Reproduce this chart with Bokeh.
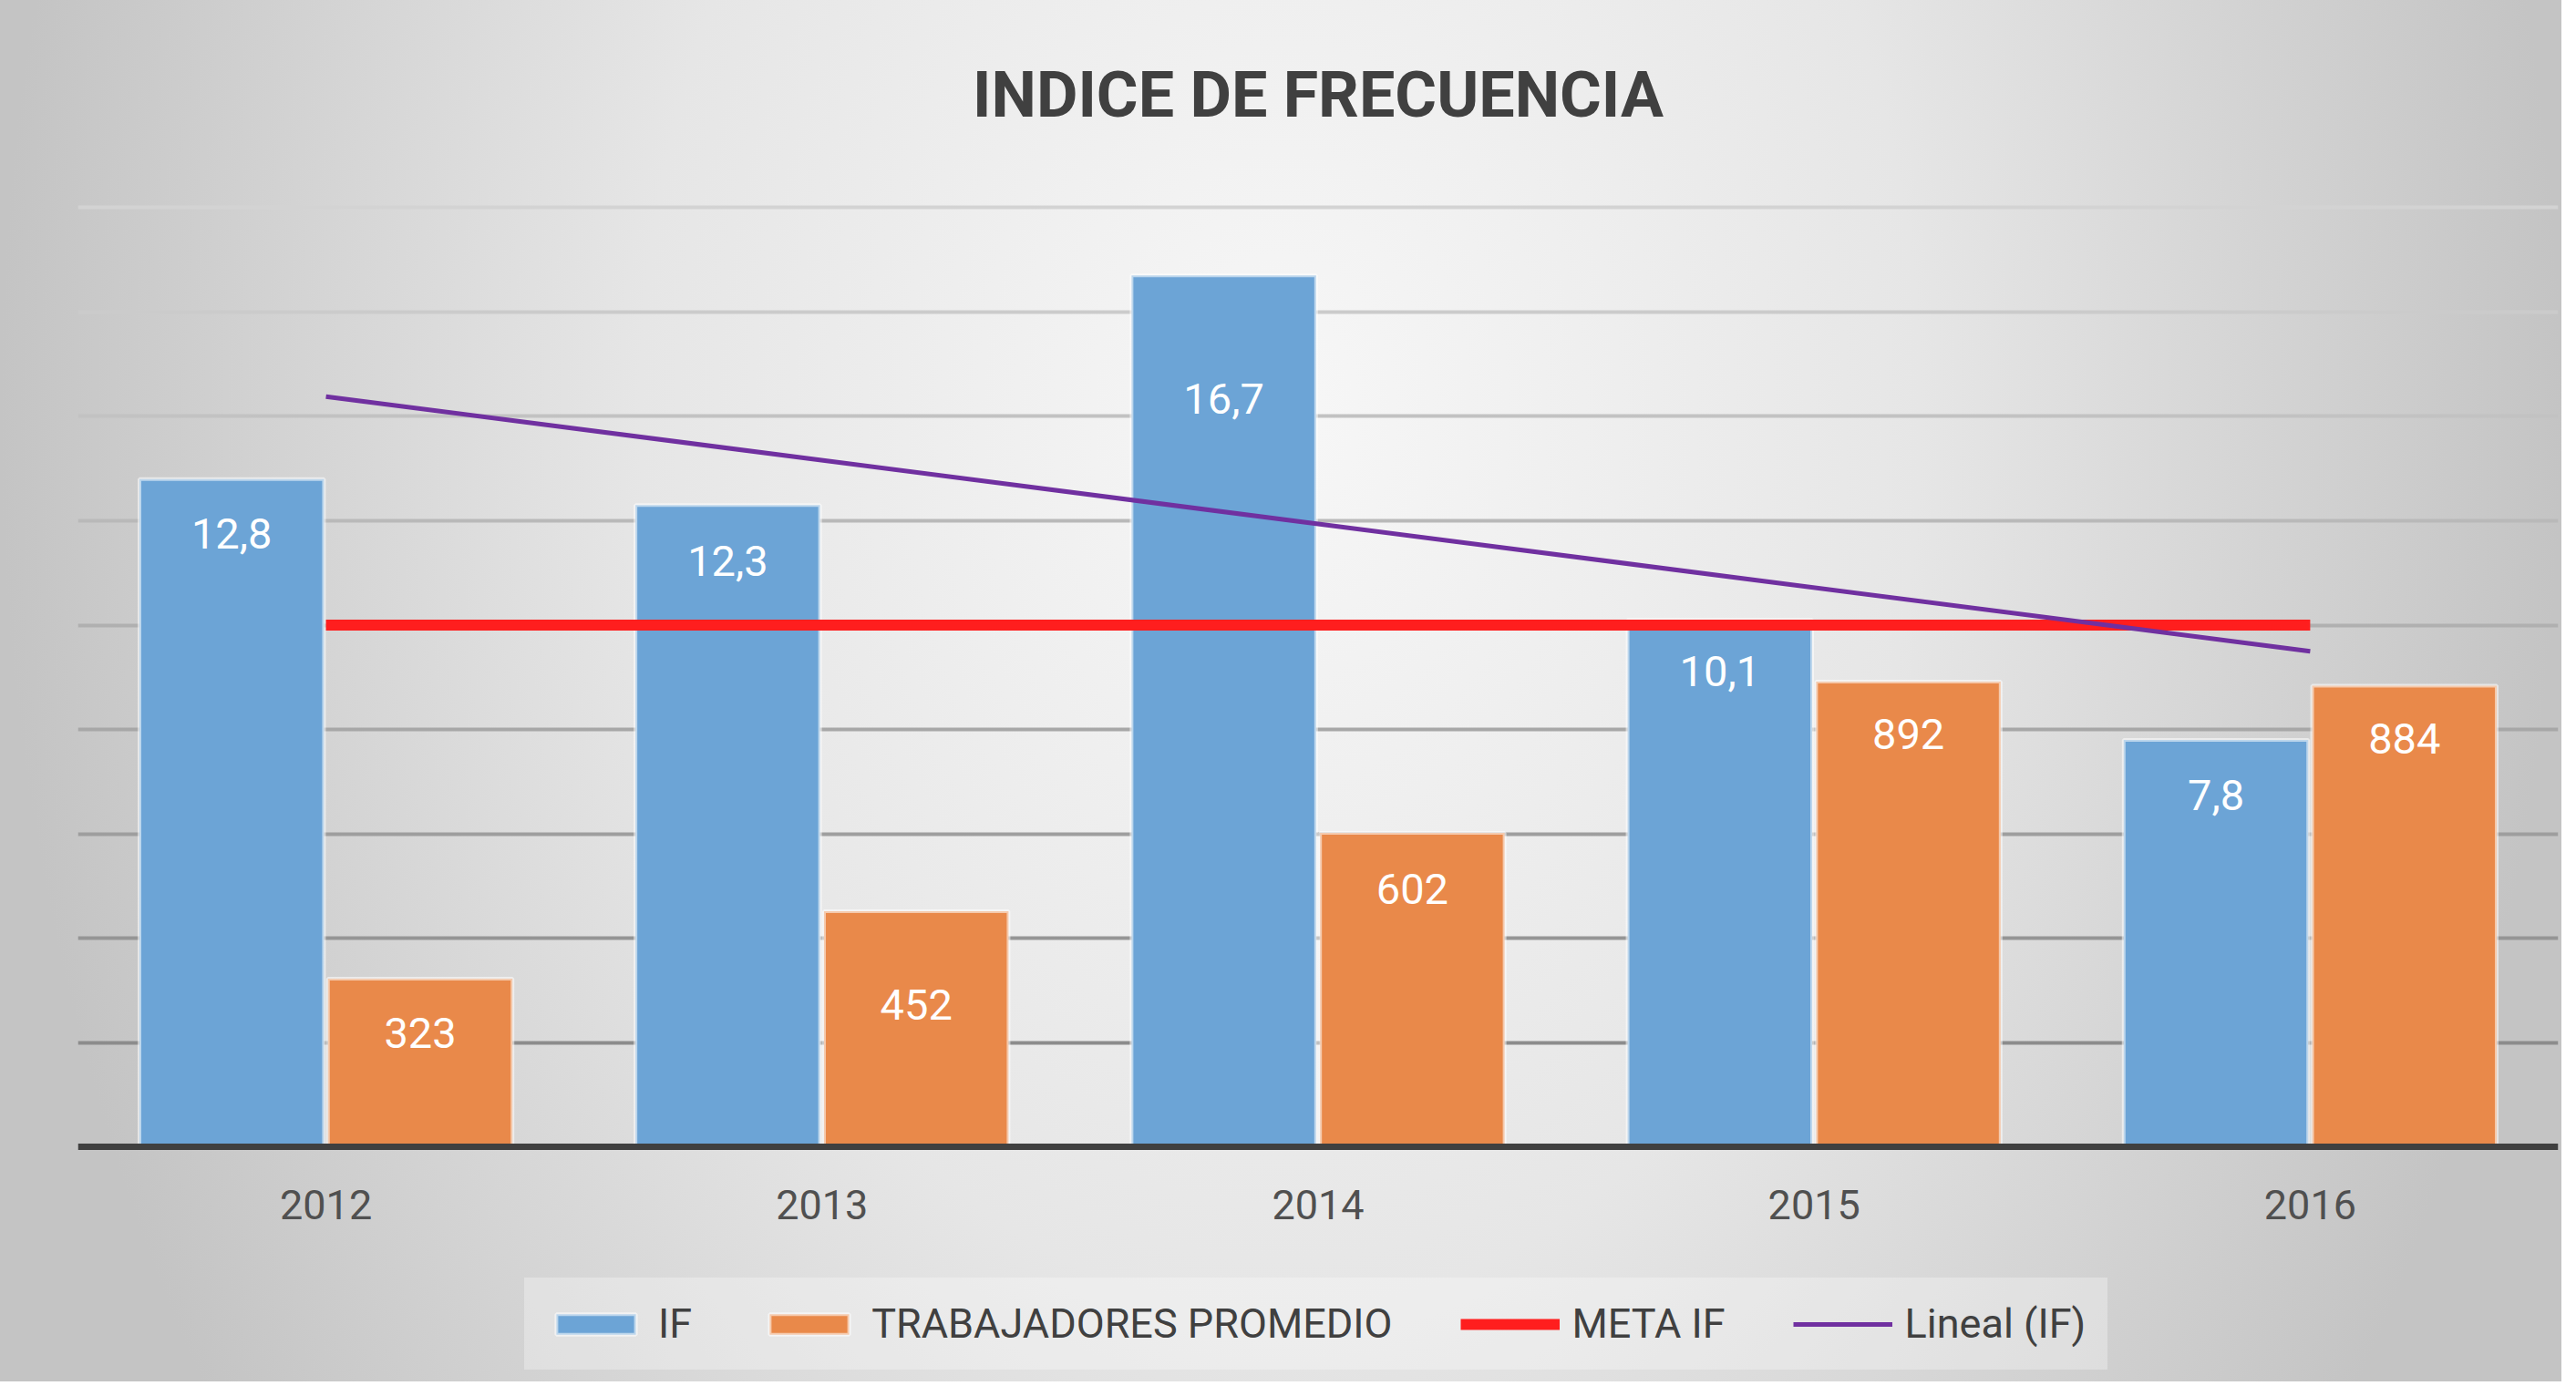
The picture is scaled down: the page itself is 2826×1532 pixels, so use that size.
import numpy as np
from bokeh.plotting import figure
from bokeh.models import (FactorRange, Range1d, ColumnDataSource, Legend, LegendItem)
from bokeh.transform import dodge
from bokeh.core.properties import value
from bokeh.embed import file_html
from bokeh.resources import INLINE

# ---------------- data ----------------
YEARS = ["2012", "2013", "2014", "2015", "2016"]
IF_VALUES = [12.8, 12.3, 16.7, 10.1, 7.8]
WORKERS = [323, 452, 602, 892, 884]
META_IF = 10
TITLE = "INDICE DE FRECUENCIA"
SERIES_NAMES = ["IF", "TRABAJADORES PROMEDIO", "META IF", "Lineal (IF)"]

# ---------------- styling ----------------
FONT = "Roboto"
BLUE = "#6CA4D6"
ORANGE = "#E9894A"
RED = "#FF1E1E"
PURPLE = "#7030A0"
GRID_VALUES = [2, 4, 6, 8, 10, 12, 14, 16, 18]
GRID_COLORS = ["#8c8c8c", "#959595", "#9e9e9e", "#a7a7a7", "#b0b0b0",
               "#b9b9b9", "#c2c2c2", "#cbcbcb", "#d3d3d3"]
IF_LABEL_DY = [60, 61, 135, 56, 60]      # px below bar top
WK_LABEL_DY = [60, 103, 61, 58, 58]

# linear trend of IF (Excel "Lineal")
xi = np.arange(len(IF_VALUES))
slope, intercept = np.polyfit(xi, IF_VALUES, 1)
TREND = [intercept + slope * 0, intercept + slope * (len(IF_VALUES) - 1)]

fmt = lambda v: (f"{v:.1f}").replace(".", ",")

src = ColumnDataSource(dict(
    year=YEARS, ifv=IF_VALUES, wk=WORKERS,
    if_lbl=[fmt(v) for v in IF_VALUES], wk_lbl=[str(v) for v in WORKERS],
    if_dy=IF_LABEL_DY, wk_dy=WK_LABEL_DY, zero=[0] * len(YEARS),
))

# frame spans from the top gridline area down to the figure bottom
# (the category axis and legend are drawn inside its lower part)
Y_LO, Y_HI = -4.497, 18.46
p = figure(width=2810, height=1516,
           x_range=FactorRange(*YEARS, range_padding=0),
           y_range=Range1d(Y_LO, Y_HI),
           output_backend="svg", toolbar_location=None,
           x_axis_location=None, y_axis_location=None)
p.extra_y_ranges = {"wk": Range1d(Y_LO * 100, Y_HI * 100)}

p.styles = {"background": "radial-gradient(50% 130% at 50% 30%, #f7f7f7 0%, #e6e6e6 50%, #c4c4c4 100%)"}
p.background_fill_alpha = 0
p.border_fill_alpha = 0
p.outline_line_color = None
p.min_border_left = 85
p.min_border_right = 4
p.min_border_top = 201
p.min_border_bottom = 0
p.xgrid.visible = False
p.ygrid.visible = False

# gridlines
p.hspan(y=GRID_VALUES, line_color=GRID_COLORS, line_width=4)

# bars
b1 = p.vbar(x=dodge("year", -0.19, range=p.x_range), top="ifv", bottom=0, width=0.372,
            source=src, fill_color=BLUE, line_color="white", line_alpha=0.55, line_width=4)
b2 = p.vbar(x=dodge("year", 0.19, range=p.x_range), top="wk", bottom=0, width=0.372,
            source=src, y_range_name="wk",
            fill_color=ORANGE, line_color="white", line_alpha=0.55, line_width=4)

# category axis line at zero
p.hspan(y=[0], line_color="#404040", line_width=7)

# meta line and trend
l1 = p.line(x=[YEARS[0], YEARS[-1]], y=[META_IF, META_IF], line_color=RED, line_width=12)
l2 = p.line(x=[YEARS[0], YEARS[-1]], y=TREND, line_color=PURPLE, line_width=5)

# data labels
p.text(x=dodge("year", -0.19, range=p.x_range), y="ifv", text="if_lbl", y_offset="if_dy",
       source=src, text_align="center", text_baseline="middle", text_color="white",
       text_font=value(FONT), text_font_size="47px")
p.text(x=dodge("year", 0.19, range=p.x_range), y="wk", text="wk_lbl", y_offset="wk_dy",
       source=src, y_range_name="wk", text_align="center", text_baseline="middle",
       text_color="white", text_font=value(FONT), text_font_size="47px")

# category labels
p.text(x="year", y="zero", text="year", y_offset=63, source=src,
       text_align="center", text_baseline="middle", text_color="#505050",
       text_font=value(FONT), text_font_size="45px")

# title
p.title.text = TITLE
p.title.align = "center"
p.title.text_font = FONT
p.title.text_font_size = "70px"
p.title.text_font_style = "bold"
p.title.text_color = "#404040"
p.title.standoff = 114

# legend
legend = Legend(items=[
    LegendItem(label=SERIES_NAMES[0], renderers=[b1]),
    LegendItem(label=SERIES_NAMES[1], renderers=[b2]),
    LegendItem(label=SERIES_NAMES[2], renderers=[l1]),
    LegendItem(label=SERIES_NAMES[3], renderers=[l2]),
], orientation="horizontal", location=(490, 13))
legend.glyph_width = 109
legend.glyph_height = 28
legend.label_text_font = FONT
legend.label_text_font_size = "45px"
legend.label_text_color = "#404040"
legend.label_standoff = 14
legend.spacing = 74
legend.padding = 24
legend.margin = 0
legend.background_fill_color = "white"
legend.background_fill_alpha = 0.3
legend.border_line_alpha = 0
p.add_layout(legend, "center")

open("out.html", "w").write(file_html(p, INLINE))
